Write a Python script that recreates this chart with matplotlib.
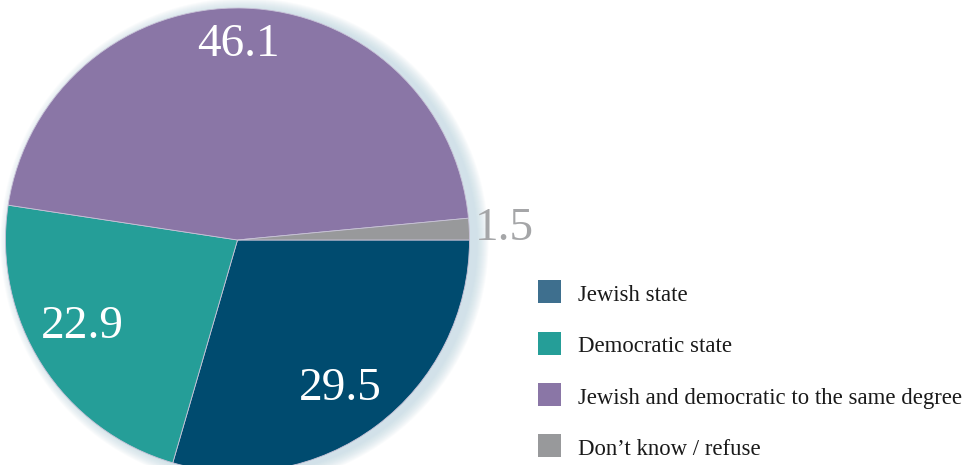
import numpy as np
import matplotlib
matplotlib.use("Agg")
import matplotlib.pyplot as plt
from matplotlib.patches import Circle, Rectangle

#data:
categories = ['Jewish state', 'Democratic state',
              'Jewish and democratic to the same degree', 'Don\u2019t know / refuse']
values = [29.5, 22.9, 46.1, 1.5]
pieColors = ['#004b6f', '#259e98', '#8a76a6', '#98999b']
legendColors = ['#3e6f8e', '#259e98', '#8a76a6', '#98999b']

plt.rcParams['font.family'] = ['Liberation Serif', 'DejaVu Serif']

fig = plt.figure(figsize=(9.76, 4.65), dpi=100)
ax = fig.add_axes([0, 0, 1, 1])

cx, cy, r = 237.5, 225, 232

#soft glow behind the pie, mostly to the right
for i in range(12):
    ax.add_patch(Circle((cx + 7, cy - 2), r + 12 - i, color='#b9d3df',
                        alpha=0.07, lw=0, zorder=0))

ax.pie(values, colors=pieColors, startangle=0, counterclock=False,
       center=(cx, cy), radius=r, frame=True,
       wedgeprops=dict(linewidth=0.6, edgecolor='#c9c3d8'))
ax.set_xlim(0, 976)
ax.set_ylim(0, 465)
ax.axis('off')

#value labels
ax.text(238, 465 - 45, f'{values[2]:.1f}', color='white', fontsize=34,
        ha='center', va='center')
ax.text(82, 465 - 327, f'{values[1]:.1f}', color='white', fontsize=34,
        ha='center', va='center')
ax.text(340, 465 - 389, f'{values[0]:.1f}', color='white', fontsize=34,
        ha='center', va='center')
ax.text(504, 465 - 229, f'{values[3]:.1f}', color='#a5a6a8', fontsize=34,
        ha='center', va='center')

#legend
for i, (name, c) in enumerate(zip(categories, legendColors)):
    y = 465 - (292 + 51.3 * i)
    ax.add_patch(Rectangle((538, y - 11.5), 23, 23, color=c, lw=0))
    ax.text(578, y - 9, name, color='#1a1a1a', fontsize=16.4, ha='left',
            va='baseline')

fig.savefig('out.png', dpi=100)
